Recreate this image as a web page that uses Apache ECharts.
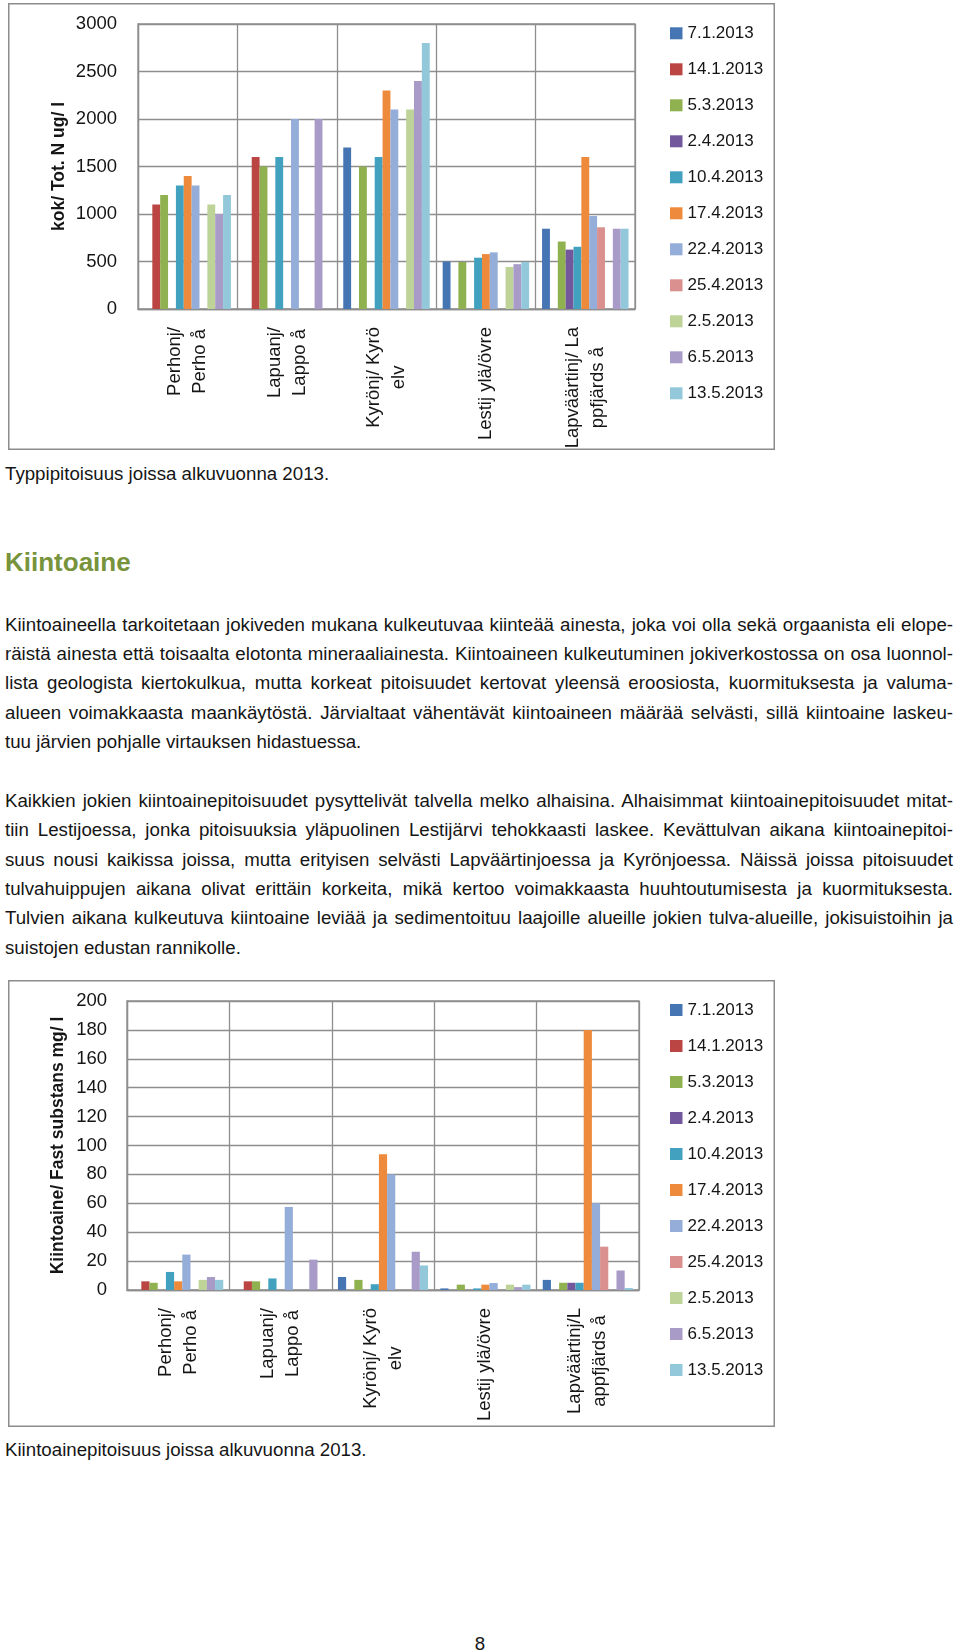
<!DOCTYPE html>
<html><head><meta charset="utf-8">
<script src="https://cdn.jsdelivr.net/npm/echarts@6/dist/echarts.min.js"></script>
<style>
html,body{margin:0;padding:0;background:#fff;}
body{width:960px;height:1652px;position:relative;overflow:hidden;font-family:"Liberation Sans",Arial,Helvetica,sans-serif;color:#151515;}
.ln{position:absolute;left:5px;width:948px;font-size:18.7px;line-height:29.3px;height:29.3px;white-space:nowrap;}
.j{text-align:justify;text-align-last:justify;white-space:normal;}
.h{position:absolute;left:5px;font-size:26px;font-weight:bold;color:#77933C;line-height:30px;}
.box{position:absolute;left:8px;width:767px;height:447px;}
</style>
</head><body>
<div id="c1" class="box" style="top:3px"></div>
<div class="ln" style="top:459px">Typpipitoisuus joissa alkuvuonna 2013.</div>
<div class="h" style="top:547px">Kiintoaine</div>
<div class="ln j" style="top:609.7px">Kiintoaineella tarkoitetaan jokiveden mukana kulkeutuvaa kiinteää ainesta, joka voi olla sekä orgaanista eli elope-</div>
<div class="ln j" style="top:639px">räistä ainesta että toisaalta elotonta mineraaliainesta. Kiintoaineen kulkeutuminen jokiverkostossa on osa luonnol-</div>
<div class="ln j" style="top:668.3px">lista geologista kiertokulkua, mutta korkeat pitoisuudet kertovat yleensä eroosiosta, kuormituksesta ja valuma-</div>
<div class="ln j" style="top:697.6px">alueen voimakkaasta maankäytöstä. Järvialtaat vähentävät kiintoaineen määrää selvästi, sillä kiintoaine laskeu-</div>
<div class="ln" style="top:726.9px">tuu järvien pohjalle virtauksen hidastuessa.</div>
<div class="ln j" style="top:786px">Kaikkien jokien kiintoainepitoisuudet pysyttelivät talvella melko alhaisina. Alhaisimmat kiintoainepitoisuudet mitat-</div>
<div class="ln j" style="top:815.3px">tiin Lestijoessa, jonka pitoisuuksia yläpuolinen Lestijärvi tehokkaasti laskee. Kevättulvan aikana kiintoainepitoi-</div>
<div class="ln j" style="top:844.6px">suus nousi kaikissa joissa, mutta erityisen selvästi Lapväärtinjoessa ja Kyrönjoessa. Näissä joissa pitoisuudet</div>
<div class="ln j" style="top:873.9px">tulvahuippujen aikana olivat erittäin korkeita, mikä kertoo voimakkaasta huuhtoutumisesta ja kuormituksesta.</div>
<div class="ln j" style="top:903.2px">Tulvien aikana kulkeutuva kiintoaine leviää ja sedimentoituu laajoille alueille jokien tulva-alueille, jokisuistoihin ja</div>
<div class="ln" style="top:932.5px">suistojen edustan rannikolle.</div>
<div id="c2" class="box" style="top:980px"></div>
<div class="ln" style="top:1434.5px">Kiintoainepitoisuus joissa alkuvuonna 2013.</div>
<div class="ln" style="top:1629px;left:0;width:960px;text-align:center">8</div>
<script>
// ---------- DATA ----------
const dates = ['7.1.2013','14.1.2013','5.3.2013','2.4.2013','10.4.2013','17.4.2013','22.4.2013','25.4.2013','2.5.2013','6.5.2013','13.5.2013'];
const rivers1 = ['Perhonj/\nPerho å','Lapuanj/\nLappo å','Kyrönj/ Kyrö\nelv','Lestij ylä/övre','Lapväärtinj/ La\nppfjärds å'];
const rivers2 = ['Perhonj/\nPerho å','Lapuanj/\nLappo å','Kyrönj/ Kyrö\nelv','Lestij ylä/övre','Lapväärtinj/L\nappfjärds å'];
const yTicks1 = {min:0, max:3000, interval:500};
const yTicks2 = {min:0, max:200, interval:20};
const yName1 = 'kok/ Tot. N ug/ l';
const yName2 = 'Kiintoaine/ Fast substans mg/ l';

// Total nitrogen ug/l, per sampling date (order of rivers1)
const totN_0701 = [null, null, 1700, 500, 845];
const totN_1401 = [1100, 1600, null, null, null];
const totN_0503 = [1200, 1500, 1500, 495, 710];
const totN_0204 = [null, null, null, null, 625];
const totN_1004 = [1300, 1600, 1600, 540, 655];
const totN_1704 = [1400, null, 2300, 578, 1600];
const totN_2204 = [1300, 2000, 2100, 596, 980];
const totN_2504 = [null, null, null, null, 860];
const totN_0205 = [1100, null, 2100, 443, null];
const totN_0605 = [1000, 2000, 2400, 472, 845];
const totN_1305 = [1200, null, 2800, 495, 845];

// Suspended solids mg/l, per sampling date (order of rivers2)
const ss_0701 = [null, null, 9, 1.1, 7];
const ss_1401 = [6, 6, null, null, null];
const ss_0503 = [5, 6, 7, 3.7, 5];
const ss_0204 = [null, null, null, null, 5];
const ss_1004 = [12.5, 8, 4, 1.1, 5];
const ss_1704 = [6, null, 94, 3.7, 180];
const ss_2204 = [24.5, 57.5, 80, 4.8, 60];
const ss_2504 = [null, null, null, null, 30];
const ss_0205 = [7, null, null, 3.7, null];
const ss_0605 = [9, 21, 26.5, 2, 13.5];
const ss_1305 = [7, null, 17, 3.7, 1.4];

const totNSeries = [totN_0701,totN_1401,totN_0503,totN_0204,totN_1004,totN_1704,totN_2204,totN_2504,totN_0205,totN_0605,totN_1305];
const ssSeries = [ss_0701,ss_1401,ss_0503,ss_0204,ss_1004,ss_1704,ss_2204,ss_2504,ss_0205,ss_0605,ss_1305];

// ---------- STYLE ----------
const colors = ['#4675B3','#BA4543','#90B14F','#73579C','#41A1BF','#EE8A3C','#94ADD9','#D9908E','#BDD398','#A99BC8','#93C8DB'];
const FONT = '"Liberation Sans", Arial, Helvetica, sans-serif';
const GRID_COL = '#8e8e8e';
const TXT = '#151515';

function build(el, cats, seriesData, ticks, yName, g) {
  const chart = echarts.init(el, null, {renderer: 'canvas'});
  chart.setOption({
    animation: false,
    color: colors,
    textStyle: {fontFamily: FONT},
    graphic: [{type: 'rect', shape: {x: 0.75, y: 0.75, width: 765.5, height: 445.5},
      style: {fill: null, stroke: '#8c8c8c', lineWidth: 1.5}, silent: true}],
    grid: {left: g.left, top: g.top, width: g.width, height: g.height, show: true,
      borderColor: GRID_COL, borderWidth: 1.3, containLabel: false, outerBoundsMode: 'none'},
    legend: {orient: 'vertical', left: 662, top: g.legendTop, itemWidth: 12.5, itemHeight: 12,
      itemGap: 18, padding: 0, icon: 'rect', selectedMode: false,
      data: dates,
      textStyle: {fontSize: 17, lineHeight: 18, color: TXT, fontFamily: FONT}},
    xAxis: {type: 'category', data: cats, boundaryGap: true,
      axisLine: {show: true, lineStyle: {color: GRID_COL, width: 1.3}},
      axisTick: {show: false},
      splitLine: {show: true, lineStyle: {color: GRID_COL, width: 1.3}},
      axisLabel: {interval: 0, rotate: 90, margin: g.xMargin, color: TXT,
        formatter: v => v.split('\n').map(s => '{c|' + s + '}').join('\n'),
        rich: {c: {align: 'center', fontSize: 18.5, lineHeight: 25, color: TXT, fontFamily: FONT}}}},
    yAxis: {type: 'value', min: ticks.min, max: ticks.max, interval: ticks.interval,
      name: yName, nameLocation: 'middle', nameRotate: 90, nameGap: g.nameGap, nameMoveOverlap: false,
      nameTextStyle: {fontSize: 17.5, fontWeight: 'bold', color: TXT, fontFamily: FONT},
      axisLine: {show: true, lineStyle: {color: GRID_COL, width: 1.3}},
      axisTick: {show: false},
      splitLine: {show: true, lineStyle: {color: GRID_COL, width: 1.3}},
      axisLabel: {fontSize: 18.5, color: TXT, margin: g.yMargin, fontFamily: FONT,
        padding: [5, 0, 0, 0], formatter: v => String(v)}},
    series: seriesData.map((d, i) => ({
      type: 'bar', name: dates[i], data: d, barGap: '0%', barCategoryGap: g.catGap,
      itemStyle: {color: colors[i]}
    }))
  });
  return chart;
}

build(document.getElementById('c1'), rivers1, totNSeries, yTicks1, yName1,
  {left: 130, top: 21, width: 497, height: 285, legendTop: 21.3, xMargin: 18, yMargin: 21, nameGap: 70, catGap: '13%'});
build(document.getElementById('c2'), rivers2, ssSeries, yTicks2, yName2,
  {left: 119, top: 21, width: 512, height: 289, legendTop: 21, xMargin: 18, yMargin: 20, nameGap: 60, catGap: '12%'});

// keep justified lines on one line
document.querySelectorAll('.j').forEach(el => {
  let ls = 0;
  while (el.scrollHeight > 31 && ls > -1.5) { ls -= 0.05; el.style.letterSpacing = ls + 'px'; }
});
</script>
</body></html>
